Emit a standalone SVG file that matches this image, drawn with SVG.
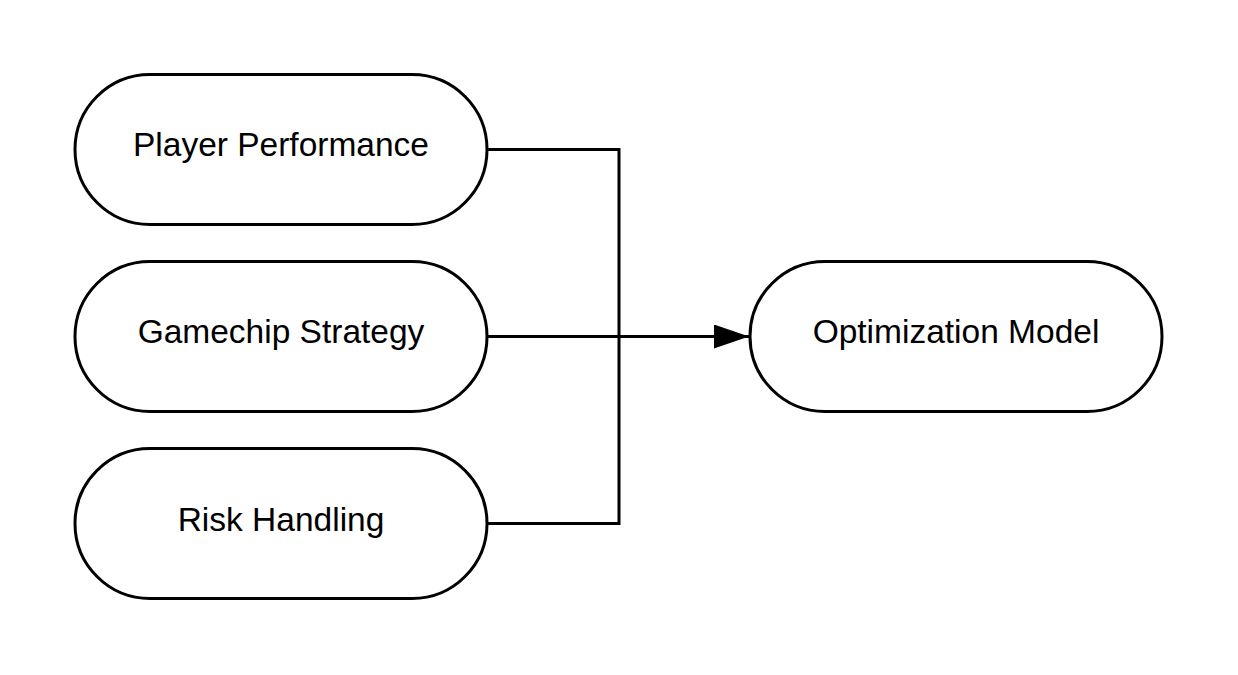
<svg xmlns="http://www.w3.org/2000/svg" width="1238" height="675" viewBox="0 0 1238 675">
<defs>
<style>
.node{fill:#fff;stroke:#000;stroke-width:3}
.lbl{font-family:"Liberation Sans",Arial,sans-serif;font-size:33.5px;fill:#000;text-anchor:middle}
.edge{fill:none;stroke:#000;stroke-width:3}
</style>
<marker id="arrow" markerUnits="userSpaceOnUse" markerWidth="36" markerHeight="24" refX="35" refY="12" orient="auto">
<path d="M0,0 L35,12 L0,24 Z" fill="#000"/>
</marker>
</defs>
<rect width="1238" height="675" fill="#fff"/>
<g id="connectors">
<polyline class="edge" points="487,149.5 619,149.5 619,523.5 487,523.5"/>
<line class="edge" x1="487" y1="336.5" x2="749" y2="336.5" marker-end="url(#arrow)"/>
</g>
<g id="player-performance">
<rect class="node" x="75" y="74.5" width="412" height="150" rx="75" ry="75"/>
<text class="lbl" x="281" y="156">Player Performance</text>
</g>
<g id="gamechip-strategy">
<rect class="node" x="75" y="261.5" width="412" height="150" rx="75" ry="75"/>
<text class="lbl" x="281" y="343">Gamechip Strategy</text>
</g>
<g id="risk-handling">
<rect class="node" x="75" y="448.5" width="412" height="150" rx="75" ry="75"/>
<text class="lbl" x="281" y="530.5">Risk Handling</text>
</g>
<g id="optimization-model">
<rect class="node" x="750" y="261.5" width="412" height="150" rx="75" ry="75"/>
<text class="lbl" x="956" y="343">Optimization Model</text>
</g>
</svg>
